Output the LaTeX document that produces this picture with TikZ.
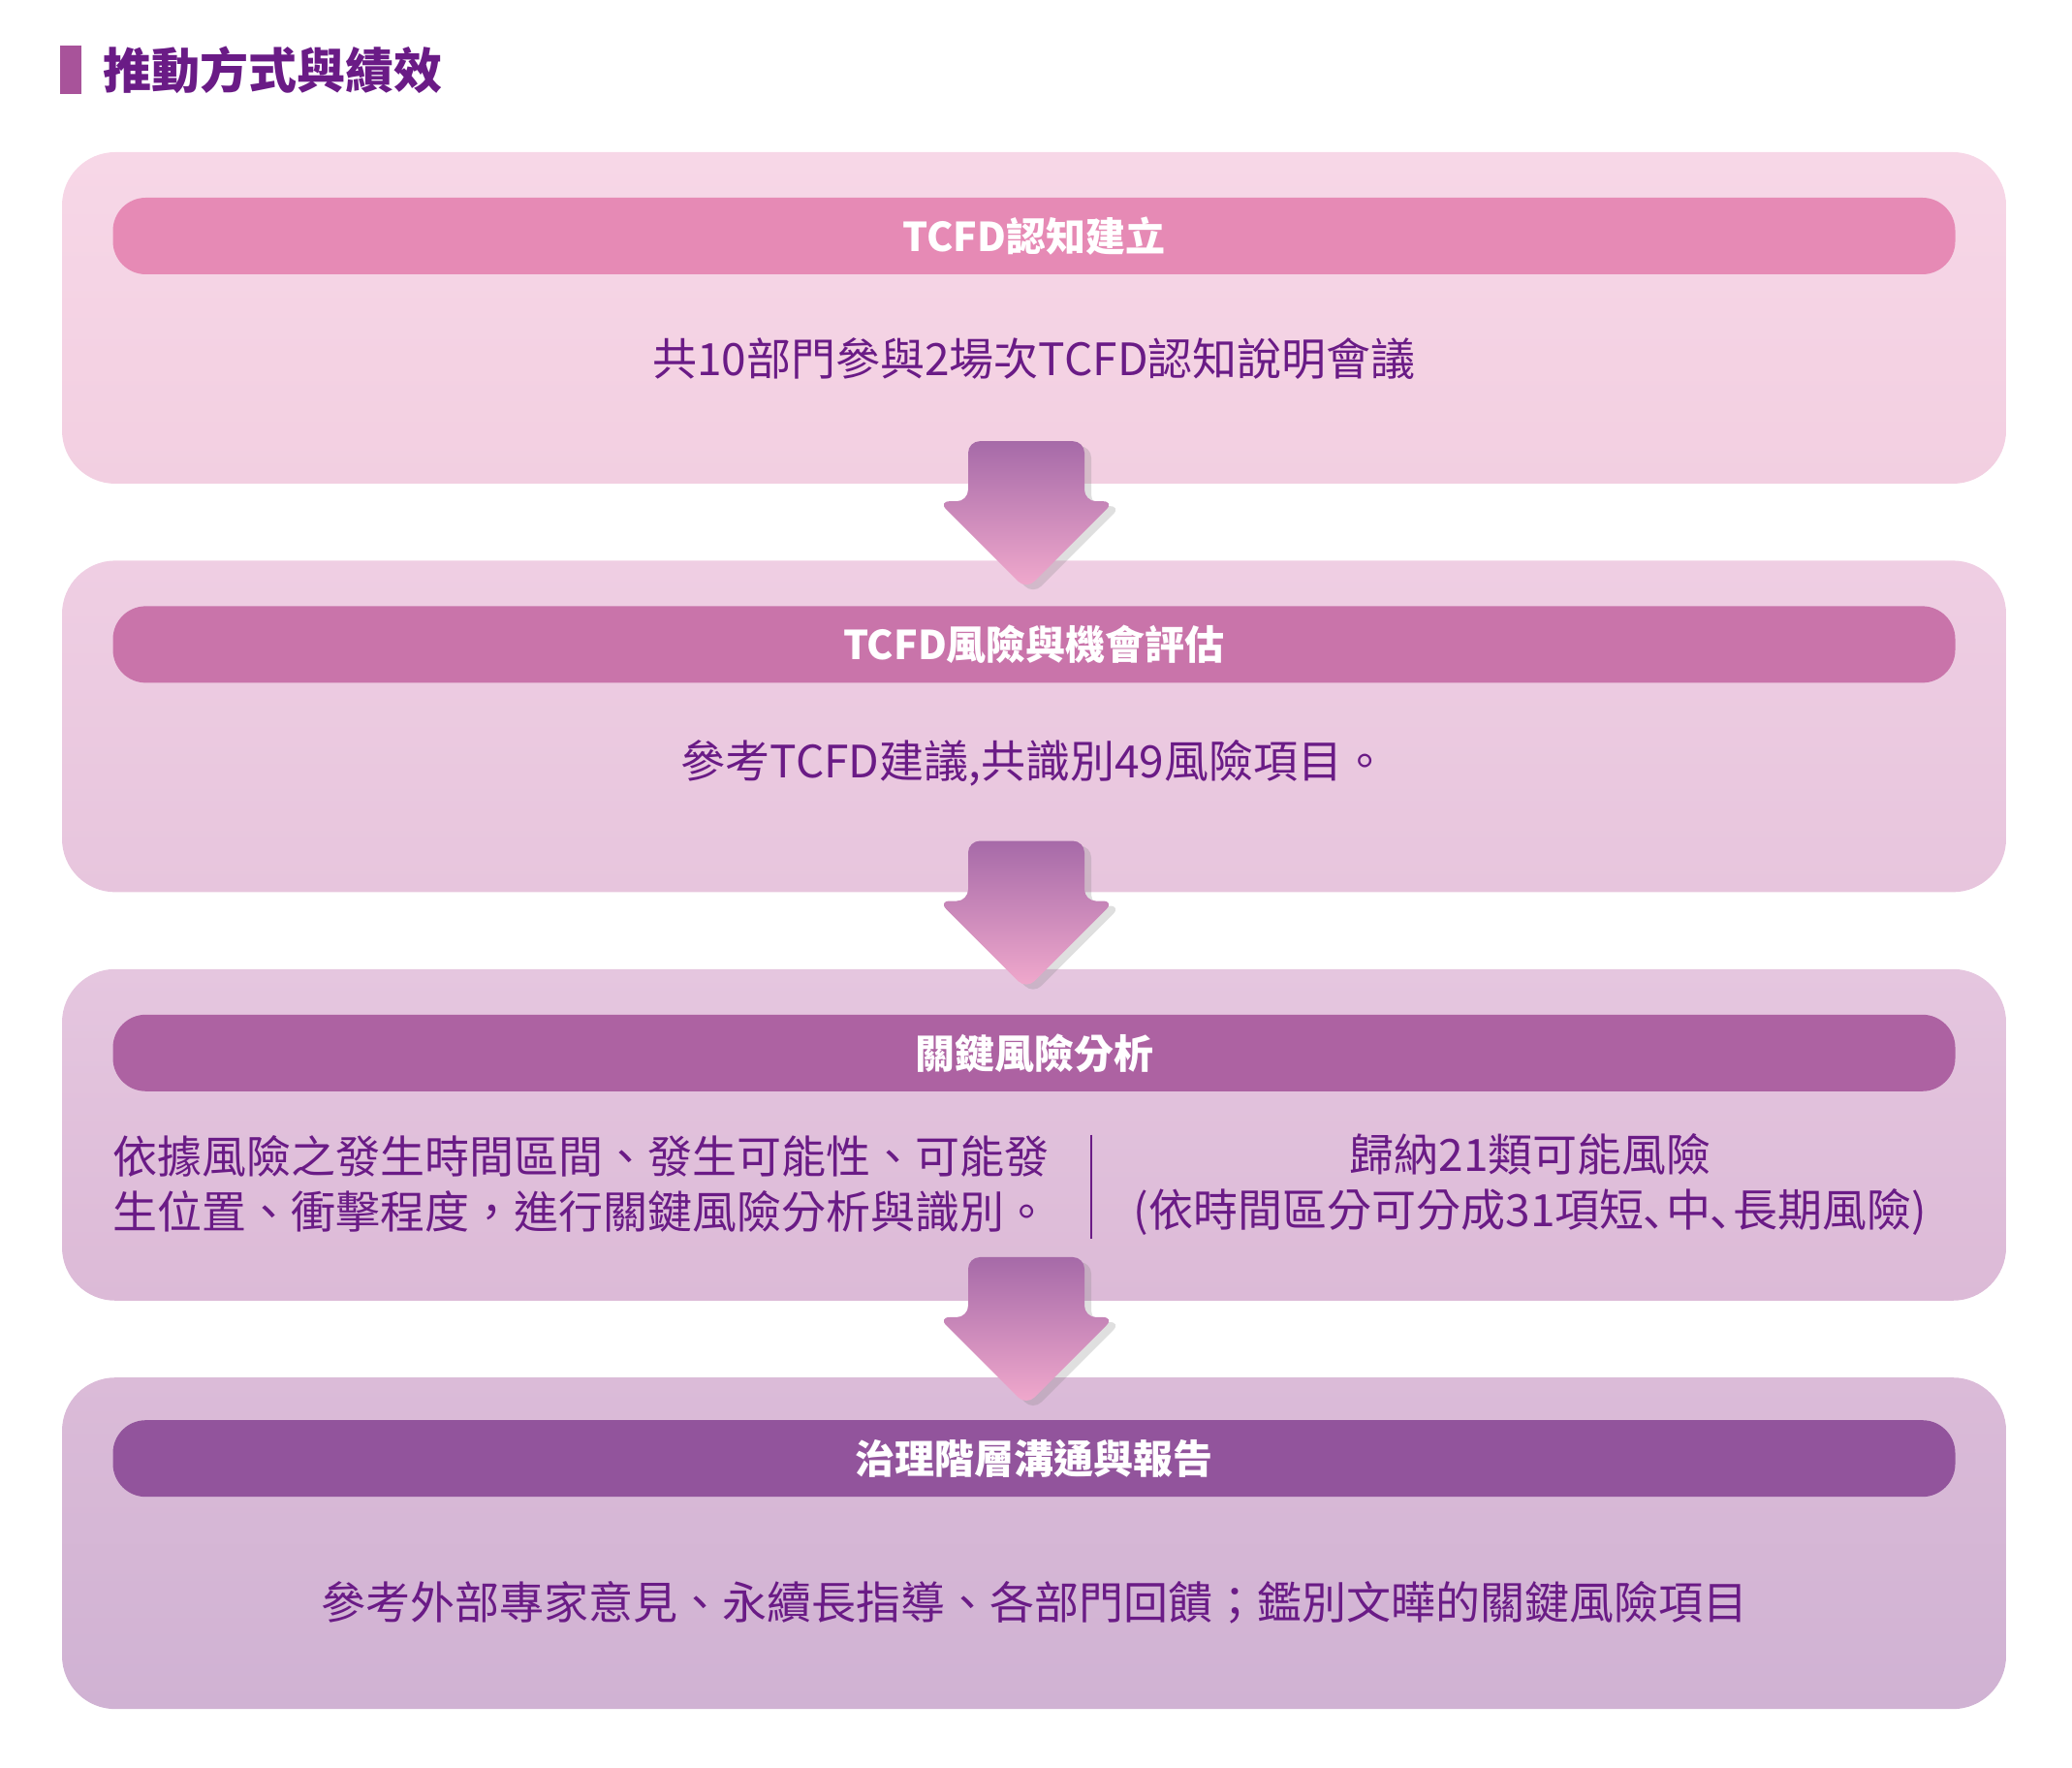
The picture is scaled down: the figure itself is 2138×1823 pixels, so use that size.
\documentclass[tikz,border=0pt]{standalone}
\usepackage{fontspec}
\setmainfont{Noto Sans CJK TC}
\usetikzlibrary{positioning,calc,shadows}

\definecolor{ink}{HTML}{6A1B86}
\definecolor{titlebar}{HTML}{A8539A}
\definecolor{p1top}{HTML}{F7D7E7}
\definecolor{p1bot}{HTML}{F2CFE1}
\definecolor{p2top}{HTML}{EFCEE3}
\definecolor{p2bot}{HTML}{E7C5DD}
\definecolor{p3top}{HTML}{E5C6DF}
\definecolor{p3bot}{HTML}{DCBAD7}
\definecolor{p4top}{HTML}{DBBBD8}
\definecolor{p4bot}{HTML}{D0B2D3}
\definecolor{h1col}{HTML}{E68AB5}
\definecolor{h2col}{HTML}{C974AA}
\definecolor{h3col}{HTML}{AD62A2}
\definecolor{h4col}{HTML}{92549C}
\definecolor{arrtop}{HTML}{A66AA8}
\definecolor{arrbot}{HTML}{F2AACD}

\begin{document}
\begin{tikzpicture}[x=1pt, y=1pt]
	\tikzset{panel/.style={rounded corners=55pt, minimum width=2006pt, minimum height=342pt, inner sep=0pt}}
	\tikzset{band/.style={rounded corners=34pt, minimum width=1901pt, minimum height=79pt, inner sep=0pt, text=white, font=\bfseries\fontsize{41}{41}\selectfont}}
	\tikzset{body/.style={text=ink, font=\fontsize{46}{57}\selectfont, align=center, inner sep=0pt}}
	\tikzset{pics/flowarrow/.style={code={
		\path[rounded corners=12pt, top color=arrtop, bottom color=arrbot,
			drop shadow={shadow xshift=7pt, shadow yshift=-5pt, opacity=0.25}]
			(-60,0) -- (60,0) -- (60,-62) -- (91,-62) -- (0,-153) -- (-91,-62) -- (-60,-62) -- cycle;
	}}}

	\useasboundingbox (0,0) rectangle (2138,1823);

	\fill[titlebar] (62,1726) rectangle (84,1776);
	\node[anchor=west, text=ink, inner sep=0pt, font=\bfseries\fontsize{50}{50}\selectfont] (title) at (106,1751) {推動方式與績效};

	\node[panel, top color=p1top, bottom color=p1bot] (b1) at (1067,1495) {};
	\node[panel, top color=p2top, bottom color=p2bot, below=79pt of b1] (b2) {};
	\node[panel, top color=p3top, bottom color=p3bot, below=79pt of b2] (b3) {};
	\node[panel, top color=p4top, bottom color=p4bot, below=79pt of b3] (b4) {};

	\node[band, fill=h1col, below=47pt of b1.north] (h1) {TCFD認知建立};
	\node[band, fill=h2col, below=47pt of b2.north] (h2) {TCFD風險與機會評估};
	\node[band, fill=h3col, below=47pt of b3.north] (h3) {關鍵風險分析};
	\node[band, fill=h4col, below=44pt of b4.north] (h4) {治理階層溝通與報告};

	\node[body] (t1) at ($(b1.north)+(0,-213)$) {共10部門參與2場次TCFD認知說明會議};
	\node[body] (t2) at ($(b2.north)+(0,-209)$) {參考TCFD建議,共識別49風險項目。};
	\node[body, align=left, anchor=west] (t3a) at ($(b3.north west)+(52,-222)$) {依據風險之發生時間區間、發生可能性、可能發\\生位置、衝擊程度，進行關鍵風險分析與識別。};
	\node[body] (t3b) at ($(b3.north)+(512,-222)$) {歸納21類可能風險\\(依時間區分可分成31項短､中､長期風險)};
	\node[body] (t4) at ($(b4.north)+(0,-232)$) {參考外部專家意見、永續長指導、各部門回饋；鑑別文曄的關鍵風險項目};

	\coordinate (d1) at ($(b3.north)+(59,-171)$);
	\coordinate (d2) at ($(b3.north)+(59,-278)$);
	\draw[ink, line width=2pt] (d1) -- (d2);

	\pic at ($(b1.south)+(-8,44)$) {flowarrow};
	\pic at ($(b2.south)+(-8,53)$) {flowarrow};
	\pic at ($(b3.south)+(-8,45)$) {flowarrow};
\end{tikzpicture}
\end{document}
